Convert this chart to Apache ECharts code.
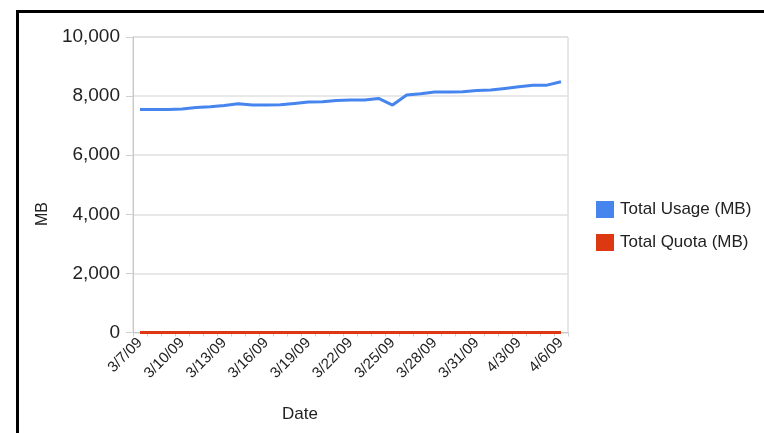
<!DOCTYPE html>
<html>
<head>
<meta charset="utf-8">
<script src="https://cdn.jsdelivr.net/npm/echarts@6/dist/echarts.min.js"></script>
<style>
html,body{margin:0;padding:0;background:#fff;}
#c{width:764px;height:433px;}
</style>
</head>
<body>
<div id="c"></div>
<script>
var dates = ['3/7/09','3/8/09','3/9/09','3/10/09','3/11/09','3/12/09','3/13/09','3/14/09','3/15/09','3/16/09','3/17/09','3/18/09','3/19/09','3/20/09','3/21/09','3/22/09','3/23/09','3/24/09','3/25/09','3/26/09','3/27/09','3/28/09','3/29/09','3/30/09','3/31/09','4/1/09','4/2/09','4/3/09','4/4/09','4/5/09','4/6/09'];
var totalUsage = [7550,7550,7550,7561,7617,7640,7685,7741,7696,7696,7707,7752,7797,7809,7854,7865,7865,7921,7696,8034,8079,8135,8135,8146,8191,8203,8259,8315,8371,8371,8484];
var totalQuota = [0,0,0,0,0,0,0,0,0,0,0,0,0,0,0,0,0,0,0,0,0,0,0,0,0,0,0,0,0,0,0];
var yTicks = [0,2000,4000,6000,8000,10000];

var FONT = 'Liberation Sans, Arial, sans-serif';
var chart = echarts.init(document.getElementById('c'));
chart.setOption({
  animation: false,
  color: ['#4684ee', '#dc3912'],
  textStyle: {fontFamily: FONT, color: '#222'},
  graphic: [
    {type: 'rect', shape: {x: 17.5, y: 11.5, width: 800, height: 500}, style: {fill: 'none', stroke: '#000', lineWidth: 3}},
    {type: 'text', x: 300, y: 414, style: {text: 'Date', font: '17px ' + FONT, fill: '#222', align: 'center', verticalAlign: 'middle'}},
    {type: 'text', x: 43, y: 214, rotation: Math.PI / 2, style: {text: 'MB', font: '16px ' + FONT, fill: '#222', align: 'center', verticalAlign: 'middle'}}
  ],
  grid: {left: 133, right: 196, top: 37, bottom: 100.5, show: true, borderColor: '#d0d0d0', borderWidth: 1, containLabel: false},
  legend: {
    orient: 'vertical', left: 596, top: 201, padding: 0,
    itemWidth: 18, itemHeight: 17, itemGap: 16,
    icon: 'rect',
    textStyle: {fontSize: 17, fontFamily: FONT, color: '#222', padding: [0, 0, 0, 1]},
    data: ['Total Usage (MB)', 'Total Quota (MB)']
  },
  xAxis: {
    type: 'category', data: dates, boundaryGap: true,
    axisLine: {lineStyle: {color: '#c8c8c8', width: 1}},
    axisTick: {show: true, interval: 0, length: 4, lineStyle: {color: '#d0d0d0'}},
    axisLabel: {interval: 2, rotate: 45, fontSize: 15, color: '#222', margin: 8, fontFamily: FONT},
    splitLine: {show: false}
  },
  yAxis: {
    type: 'value', min: yTicks[0], max: yTicks[yTicks.length - 1], interval: 2000,
    axisLine: {show: true, lineStyle: {color: '#c8c8c8'}},
    axisTick: {show: true, length: 7, lineStyle: {color: '#d0d0d0'}},
    axisLabel: {fontSize: 19, color: '#222', margin: 13, fontFamily: FONT,
      formatter: function (v) { return v.toLocaleString('en-US'); }},
    splitLine: {show: true, lineStyle: {color: '#e0e0e0', width: 1.5}}
  },
  series: [
    {name: 'Total Usage (MB)', type: 'line', data: totalUsage, symbol: 'none', lineStyle: {width: 3}, z: 3},
    {name: 'Total Quota (MB)', type: 'line', data: totalQuota, symbol: 'none', lineStyle: {width: 3}, z: 4}
  ]
});
</script>
</body>
</html>
